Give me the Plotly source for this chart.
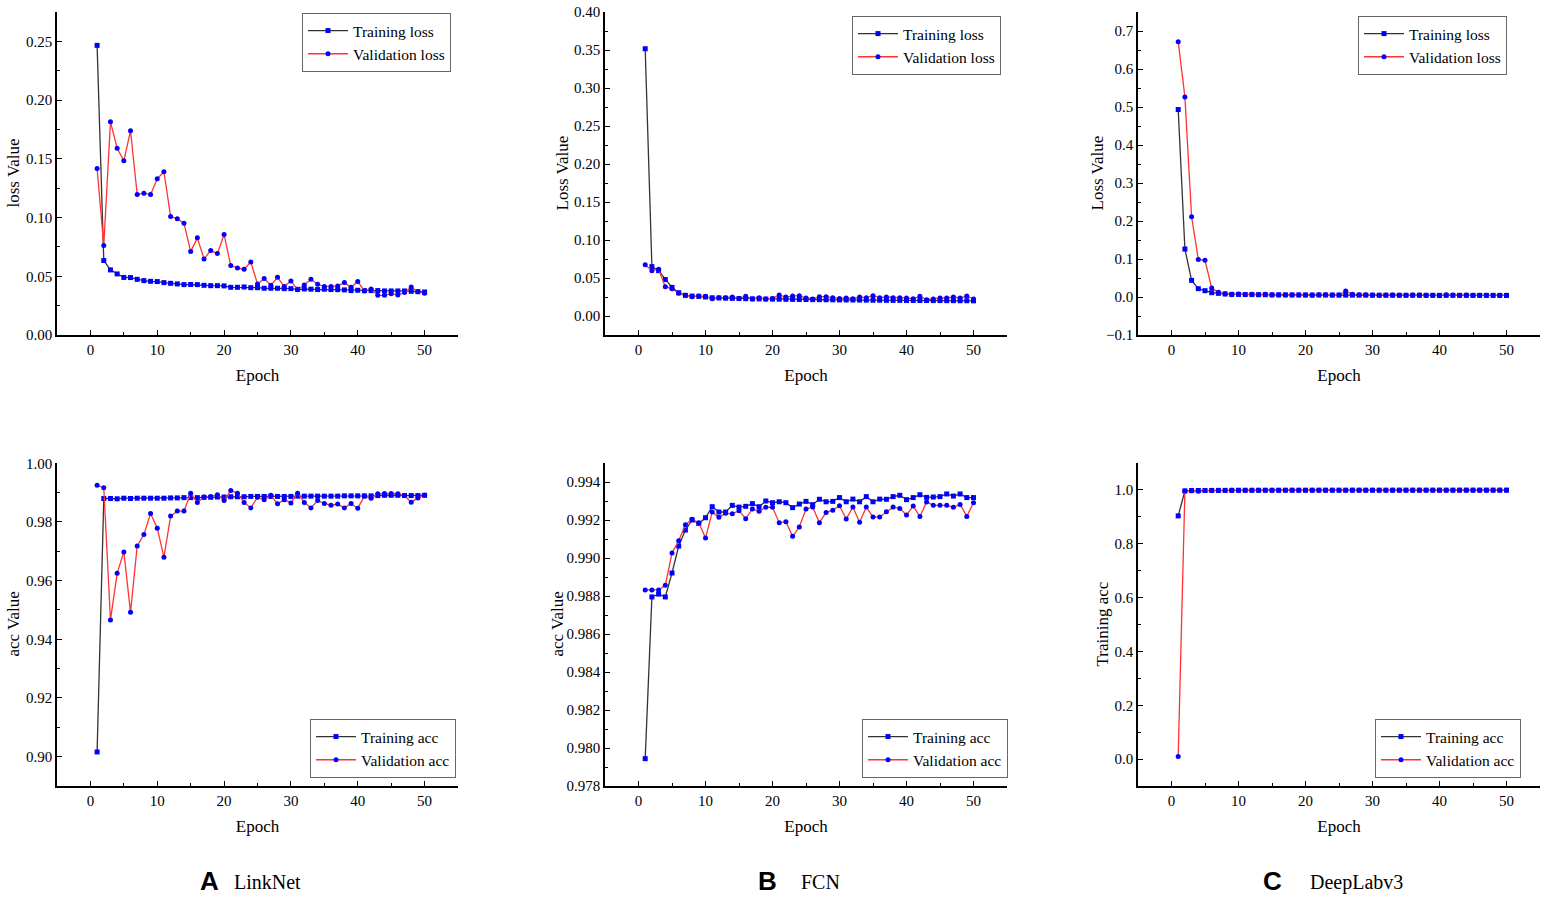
import plotly.graph_objects as go

epochs = list(range(1, 51))

# LinkNet
linknet_train_loss = [0.2466, 0.0634, 0.0554, 0.0520, 0.0490, 0.0489, 0.0474, 0.0463, 0.0457, 0.0455,
                      0.0446, 0.0440, 0.0435, 0.0429, 0.0430, 0.0429, 0.0423, 0.0420, 0.0420, 0.0418,
                      0.0406, 0.0406, 0.0409, 0.0403, 0.0403, 0.0398, 0.0398, 0.0398, 0.0395, 0.0395,
                      0.0389, 0.0392, 0.0390, 0.0387, 0.0390, 0.0387, 0.0386, 0.0384, 0.0378, 0.0381,
                      0.0378, 0.0378, 0.0378, 0.0375, 0.0375, 0.0375, 0.0375, 0.0372, 0.0369, 0.0366]
linknet_val_loss = [0.1418, 0.0761, 0.1815, 0.1590, 0.1483, 0.1739, 0.1196, 0.1207, 0.1196, 0.1330,
                    0.1390, 0.1009, 0.0989, 0.0952, 0.0710, 0.0827, 0.0648, 0.0719, 0.0693, 0.0855,
                    0.0591, 0.0571, 0.0560, 0.0622, 0.0435, 0.0480, 0.0423, 0.0491, 0.0412, 0.0460,
                    0.0386, 0.0426, 0.0474, 0.0432, 0.0412, 0.0412, 0.0418, 0.0446, 0.0406, 0.0455,
                    0.0375, 0.0392, 0.0338, 0.0338, 0.0352, 0.0341, 0.0361, 0.0409, 0.0369, 0.0355]
linknet_train_acc = [0.9016, 0.9880, 0.9880, 0.9879, 0.9881, 0.9880, 0.9881, 0.9881, 0.9881, 0.9881,
                     0.9881, 0.9882, 0.9882, 0.9883, 0.9883, 0.9883, 0.9884, 0.9884, 0.9885, 0.9885,
                     0.9886, 0.9886, 0.9886, 0.9887, 0.9887, 0.9887, 0.9887, 0.9887, 0.9887, 0.9887,
                     0.9888, 0.9888, 0.9888, 0.9888, 0.9888, 0.9888, 0.9888, 0.9889, 0.9889, 0.9889,
                     0.9889, 0.9889, 0.9890, 0.9891, 0.9891, 0.9891, 0.9890, 0.9890, 0.9890, 0.9891]
linknet_val_acc = [0.9925, 0.9917, 0.9466, 0.9625, 0.9698, 0.9492, 0.9718, 0.9757, 0.9829, 0.9779,
                   0.9680, 0.9820, 0.9837, 0.9837, 0.9898, 0.9866, 0.9885, 0.9887, 0.9893, 0.9873,
                   0.9907, 0.9898, 0.9866, 0.9848, 0.9884, 0.9876, 0.9891, 0.9862, 0.9876, 0.9865,
                   0.9898, 0.9866, 0.9848, 0.9873, 0.9863, 0.9857, 0.9861, 0.9848, 0.9863, 0.9847,
                   0.9888, 0.9881, 0.9896, 0.9897, 0.9897, 0.9896, 0.9890, 0.9867, 0.9882, 0.9891]

# FCN
fcn_train_loss = [0.3518, 0.0650, 0.0597, 0.0480, 0.0377, 0.0307, 0.0272, 0.0263, 0.0259, 0.0250,
                  0.0240, 0.0238, 0.0235, 0.0232, 0.0230, 0.0228, 0.0226, 0.0225, 0.0223, 0.0222,
                  0.0221, 0.0220, 0.0219, 0.0218, 0.0217, 0.0216, 0.0215, 0.0214, 0.0213, 0.0212,
                  0.0211, 0.0211, 0.0210, 0.0209, 0.0208, 0.0208, 0.0207, 0.0206, 0.0206, 0.0205,
                  0.0205, 0.0204, 0.0204, 0.0203, 0.0203, 0.0202, 0.0202, 0.0201, 0.0201, 0.0200]
fcn_val_loss = [0.0675, 0.0597, 0.0614, 0.0386, 0.0360, 0.0298, 0.0272, 0.0254, 0.0263, 0.0259,
                0.0228, 0.0241, 0.0241, 0.0250, 0.0232, 0.0259, 0.0224, 0.0241, 0.0224, 0.0232,
                0.0276, 0.0250, 0.0263, 0.0268, 0.0237, 0.0224, 0.0254, 0.0254, 0.0241, 0.0232,
                0.0237, 0.0228, 0.0250, 0.0241, 0.0268, 0.0241, 0.0250, 0.0241, 0.0241, 0.0237,
                0.0228, 0.0259, 0.0215, 0.0224, 0.0237, 0.0237, 0.0250, 0.0237, 0.0263, 0.0224]
fcn_train_acc = [0.97944, 0.98795, 0.98810, 0.98795, 0.98921, 0.99063, 0.99147, 0.99200, 0.99182, 0.99212,
                 0.99270, 0.99242, 0.99242, 0.99277, 0.99268, 0.99272, 0.99286, 0.99270, 0.99300, 0.99291,
                 0.99296, 0.99291, 0.99265, 0.99284, 0.99298, 0.99281, 0.99309, 0.99296, 0.99298, 0.99318,
                 0.99296, 0.99310, 0.99296, 0.99323, 0.99296, 0.99310, 0.99309, 0.99323, 0.99330, 0.99307,
                 0.99318, 0.99333, 0.99319, 0.99321, 0.99323, 0.99337, 0.99326, 0.99337, 0.99318, 0.99318]
fcn_val_acc = [0.98832, 0.98832, 0.98832, 0.98856, 0.99026, 0.99091, 0.99175, 0.99204, 0.99186, 0.99105,
               0.99242, 0.99214, 0.99235, 0.99233, 0.99249, 0.99207, 0.99258, 0.99246, 0.99267, 0.99267,
               0.99186, 0.99191, 0.99114, 0.99163, 0.99258, 0.99268, 0.99186, 0.99240, 0.99251, 0.99275,
               0.99205, 0.99268, 0.99188, 0.99268, 0.99216, 0.99216, 0.99244, 0.99268, 0.99261, 0.99226,
               0.99274, 0.99218, 0.99295, 0.99277, 0.99277, 0.99277, 0.99267, 0.99282, 0.99219, 0.99291]

# DeepLabv3
dlv3_train_loss = [0.4933, 0.1262, 0.0438, 0.0219, 0.0166, 0.0114, 0.0096, 0.0079, 0.0070, 0.0068,
                   0.0065, 0.0063, 0.0061, 0.0060, 0.0058, 0.0057, 0.0056, 0.0055, 0.0054, 0.0053,
                   0.0052, 0.0052, 0.0051, 0.0050, 0.0050, 0.0049, 0.0049, 0.0048, 0.0048, 0.0047,
                   0.0047, 0.0046, 0.0046, 0.0046, 0.0045, 0.0045, 0.0045, 0.0044, 0.0044, 0.0044,
                   0.0043, 0.0043, 0.0043, 0.0043, 0.0042, 0.0042, 0.0042, 0.0042, 0.0041, 0.0041]
dlv3_val_loss = [0.6720, 0.5265, 0.2111, 0.0990, 0.0964, 0.0237, 0.0123, 0.0088, 0.0061, 0.0079,
                 0.0061, 0.0070, 0.0061, 0.0070, 0.0053, 0.0053, 0.0053, 0.0053, 0.0053, 0.0053,
                 0.0044, 0.0061, 0.0061, 0.0053, 0.0053, 0.0158, 0.0070, 0.0061, 0.0061, 0.0053,
                 0.0044, 0.0053, 0.0053, 0.0044, 0.0044, 0.0053, 0.0053, 0.0044, 0.0044, 0.0035,
                 0.0061, 0.0053, 0.0044, 0.0053, 0.0044, 0.0044, 0.0044, 0.0044, 0.0044, 0.0044]
dlv3_train_acc = [0.9035, 0.9963, 0.9975, 0.9978, 0.9980, 0.9982, 0.9983, 0.9984, 0.9985, 0.9986,
                  0.9986, 0.9987, 0.9987, 0.9988, 0.9988, 0.9988, 0.9989, 0.9989, 0.9989, 0.9989,
                  0.9990, 0.9990, 0.9990, 0.9990, 0.9990, 0.9990, 0.9991, 0.9991, 0.9991, 0.9991,
                  0.9991, 0.9991, 0.9991, 0.9992, 0.9992, 0.9992, 0.9992, 0.9992, 0.9992, 0.9992,
                  0.9992, 0.9992, 0.9993, 0.9993, 0.9993, 0.9993, 0.9993, 0.9993, 0.9993, 0.9993]
dlv3_val_acc = [0.0099, 0.9960, 0.9970, 0.9950, 0.9975, 0.9978, 0.9980, 0.9982, 0.9983, 0.9984,
                0.9984, 0.9985, 0.9985, 0.9986, 0.9986, 0.9986, 0.9987, 0.9987, 0.9987, 0.9987,
                0.9988, 0.9988, 0.9988, 0.9988, 0.9988, 0.9988, 0.9989, 0.9989, 0.9989, 0.9989,
                0.9989, 0.9989, 0.9989, 0.9990, 0.9990, 0.9990, 0.9990, 0.9990, 0.9990, 0.9990,
                0.9990, 0.9990, 0.9990, 0.9990, 0.9990, 0.9990, 0.9990, 0.9990, 0.9990, 0.9990]

panel_letters = ["A", "B", "C"]
model_names = ["LinkNet", "FCN", "DeepLabv3"]

SERIF = "Liberation Serif, Times New Roman, serif"
W, H = 1547, 901


def px_x(p):
    return min(1.0, max(0.0, p / W))


def px_y(p):
    return min(1.0, max(0.0, 1 - p / H))


# pixel boxes of the six plot areas
cols_px = [(57, 458), (605, 1007), (1138, 1540)]
rows_px = [(12, 335), (463, 786)]

panels = [
    # row, col, train, val, names, ytitle, yrange, dtick, fmt, legend (left, top), y-title x
    (0, 0, linknet_train_loss, linknet_val_loss, ("Training loss", "Validation loss"), "loss Value", [0, 0.275], 0.05, ".2f", (302, 13), 13),
    (1, 0, linknet_train_acc, linknet_val_acc, ("Training acc", "Validation acc"), "acc Value", [0.89, 1.0001], 0.02, ".2f", (310, 719), 13),
    (0, 1, fcn_train_loss, fcn_val_loss, ("Training loss", "Validation loss"), "Loss Value", [-0.025, 0.4002], 0.05, ".2f", (852, 16), 562),
    (1, 1, fcn_train_acc, fcn_val_acc, ("Training acc", "Validation acc"), "acc Value", [0.978, 0.995], 0.002, ".3f", (862, 719), 557),
    (0, 2, dlv3_train_loss, dlv3_val_loss, ("Training loss", "Validation loss"), "Loss Value", [-0.1, 0.75], 0.1, ".1f", (1358, 16), 1097),
    (1, 2, dlv3_train_acc, dlv3_val_acc, ("Training acc", "Validation acc"), "Training acc", [-0.1, 1.1], 0.2, ".1f", (1375, 719), 1102),
]

fig = go.Figure()
layout = {}

for i, (r, c, tr, va, names, ytitle, yrange, dtick, fmt, legpos, ytx) in enumerate(panels):
    n = i + 1
    xa = "x" if n == 1 else f"x{n}"
    ya = "y" if n == 1 else f"y{n}"
    leg = "legend" if n == 1 else f"legend{n}"

    fig.add_trace(go.Scatter(
        x=epochs, y=tr, name=names[0], xaxis=xa, yaxis=ya, legend=leg,
        mode="lines+markers",
        line=dict(color="#333333", width=1.3),
        marker=dict(symbol="square", size=5, color="#0000ff"),
    ))
    fig.add_trace(go.Scatter(
        x=epochs, y=va, name=names[1], xaxis=xa, yaxis=ya, legend=leg,
        mode="lines+markers",
        line=dict(color="#ff3333", width=1.3),
        marker=dict(symbol="circle", size=5, color="#0000ff"),
    ))

    l, rr = cols_px[c]
    t, b = rows_px[r]
    axis_common = dict(
        showline=True, linecolor="black", linewidth=1.5, mirror=False,
        showgrid=False, zeroline=False, automargin=False,
        ticks="inside", ticklen=5, tickwidth=1.2, tickcolor="black",
        ticklabeloverflow="allow",
        tickfont=dict(family=SERIF, size=15, color="black"),
    )
    layout["xaxis" if n == 1 else f"xaxis{n}"] = dict(
        axis_common,
        domain=[px_x(l), px_x(rr)], anchor=ya,
        range=[-5, 55], tick0=0, dtick=10,
        minor=dict(ticks="inside", ticklen=3, tick0=0, dtick=5, tickcolor="black"),
        title=dict(text="Epoch", font=dict(family=SERIF, size=17, color="black"), standoff=12),
    )
    layout["yaxis" if n == 1 else f"yaxis{n}"] = dict(
        axis_common,
        domain=[px_y(b), px_y(t)], anchor=xa,
        range=yrange, tick0=0, dtick=dtick, tickformat=fmt,
        minor=dict(ticks="inside", ticklen=3, tick0=0, dtick=dtick / 2, tickcolor="black"),
    )
    layout[leg] = dict(
        x=px_x(legpos[0]), y=px_y(legpos[1]), xanchor="left", yanchor="top",
        bgcolor="white", bordercolor="#666666", borderwidth=1,
        font=dict(family=SERIF, size=15.5, color="black"),
        tracegroupgap=0, itemwidth=40,
    )
    # y axis title placed as rotated text
    fig.add_annotation(text=ytitle, x=px_x(ytx), y=px_y((t + b) / 2),
                       xref="paper", yref="paper", xanchor="center", yanchor="middle",
                       textangle=-90, showarrow=False,
                       font=dict(family=SERIF, size=17, color="black"))

fig.update_layout(**layout)

# bottom panel captions
letter_x = [209, 767, 1272]
name_x = [232, 799, 1308]
for k in range(3):
    fig.add_annotation(text=f"<b>{panel_letters[k]}</b>", x=px_x(letter_x[k]), y=px_y(881),
                       xref="paper", yref="paper", xanchor="center", yanchor="middle",
                       showarrow=False, font=dict(family="Liberation Sans, Arial, sans-serif", size=26, color="black"))
    fig.add_annotation(text=model_names[k], x=px_x(name_x[k]), y=px_y(882),
                       xref="paper", yref="paper", xanchor="left", yanchor="middle",
                       showarrow=False, font=dict(family=SERIF, size=20, color="black"))

fig.update_layout(
    width=W, height=H,
    margin=dict(l=0, r=0, t=0, b=0),
    paper_bgcolor="white", plot_bgcolor="white",
    showlegend=True,
)

# drop the default page margin so the figure fills the window
fig.write_html("out.html", config={"displayModeBar": False},
               post_script="document.body.style.margin='0';document.body.style.overflow='hidden';")
